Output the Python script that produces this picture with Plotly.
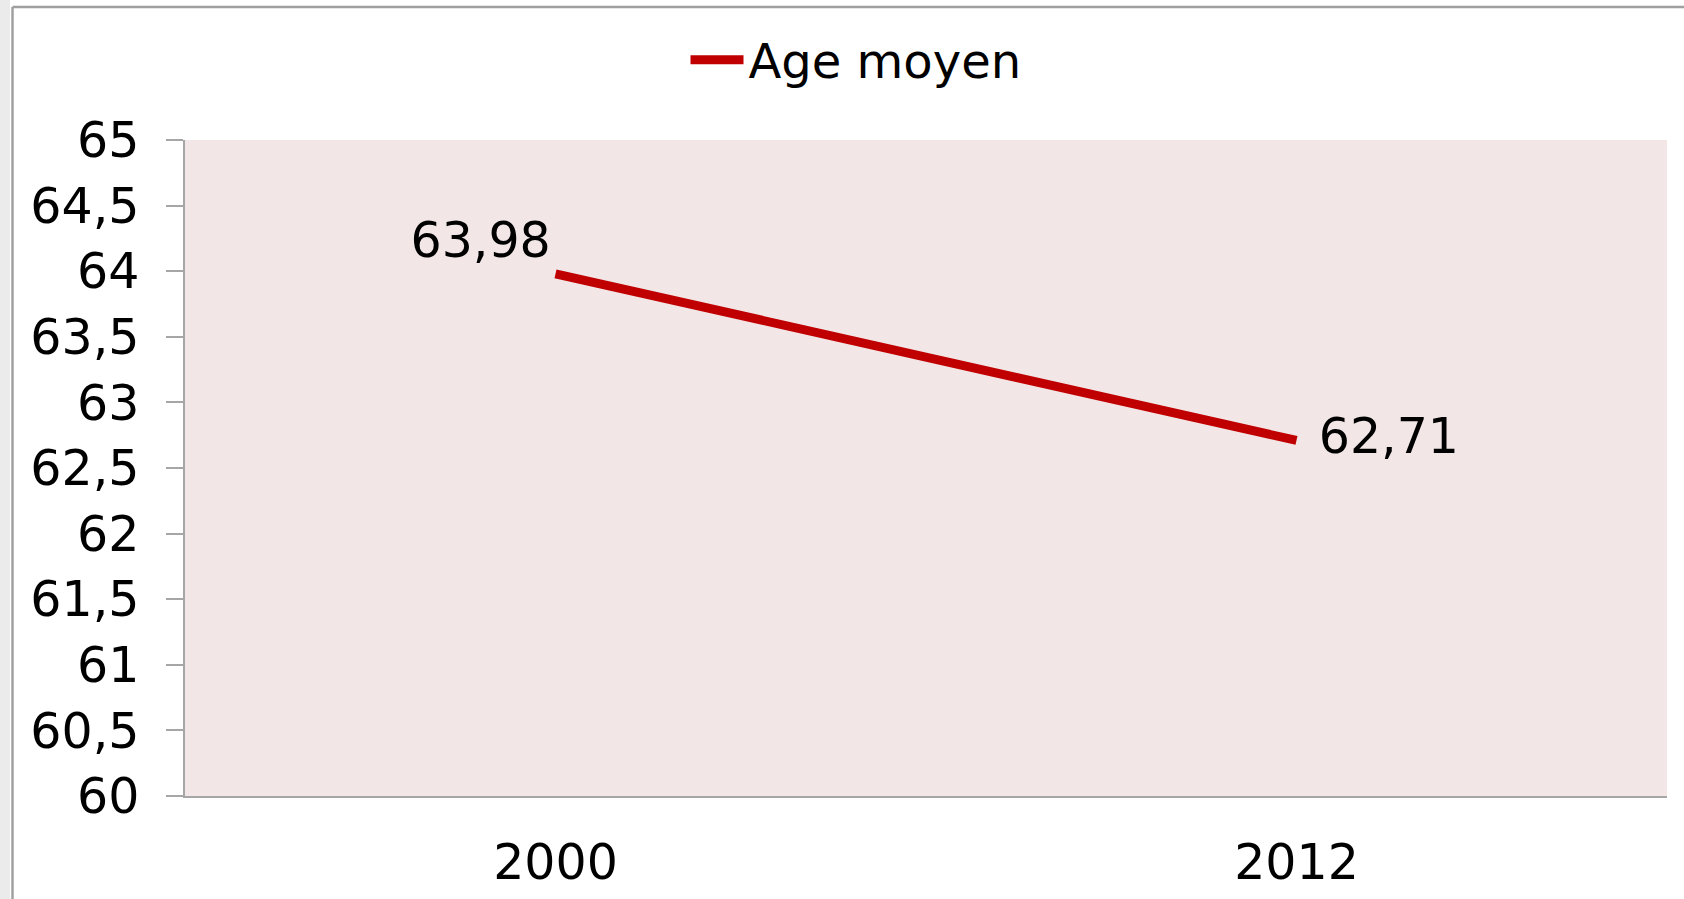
import plotly.graph_objects as go

years = ["2000", "2012"]
age_moyen = [63.98, 62.71]
series_name = "Age moyen"
y_ticks = [60, 60.5, 61, 61.5, 62, 62.5, 63, 63.5, 64, 64.5, 65]

W, H = 1684, 899
ML, MR, MT, MB = 185, 17, 140, 103
PW, PH = W - ML - MR, H - MT - MB


def px_x(px):
    return (px - ML) / PW


def px_y(py):
    return (H - MB - py) / PH


labels = [f"{v:.2f}".replace(".", ",") for v in age_moyen]

FONT = "DejaVu Sans, Verdana, sans-serif"
FS = 49

fig = go.Figure()
fig.add_trace(go.Scatter(
    x=years, y=age_moyen, name=series_name,
    mode="lines+markers+text",
    line=dict(color="#C00000", width=9),
    marker=dict(size=[6, 34], color="rgba(0,0,0,0)", line=dict(width=0)),
    text=labels,
    textposition=["top left", "middle right"],
    textfont=dict(size=FS, color="#000000", family=FONT),
    cliponaxis=False,
))

fig.update_layout(
    width=W, height=H,
    margin=dict(l=ML, r=MR, t=MT, b=MB, autoexpand=False),
    paper_bgcolor="white",
    plot_bgcolor="#F2E6E6",
    separators=", ",
    font=dict(family=FONT, size=FS, color="#000000"),
    showlegend=True,
    legend=dict(
        orientation="h", x=px_x(856), xanchor="center",
        y=px_y(60), yanchor="middle",
        font=dict(size=48, family=FONT, color="#000000"),
        itemwidth=53, bgcolor="rgba(0,0,0,0)",
    ),
    xaxis=dict(
        type="category", range=[-0.5, 1.5], automargin=False,
        showgrid=False, zeroline=False,
        showline=True, linecolor="#A6A6A6", linewidth=2,
        ticks="", tickfont=dict(size=FS, family=FONT),
        ticklabelstandoff=22,
    ),
    yaxis=dict(
        range=[60, 65], tickvals=y_ticks, automargin=False,
        showgrid=False, zeroline=False,
        showline=True, linecolor="#A6A6A6", linewidth=1.5,
        ticks="outside", ticklen=17, tickcolor="#A6A6A6", tickwidth=1.5,
        tickfont=dict(size=FS, family=FONT),
        ticklabelstandoff=17,
    ),
    shapes=[
        dict(type="rect", xref="paper", yref="paper",
             x0=px_x(0), x1=px_x(10), y0=px_y(H), y1=px_y(0),
             fillcolor="#EBEBEB", line=dict(width=0), layer="below"),
        dict(type="line", xref="paper", yref="paper",
             x0=px_x(12.5), x1=px_x(12.5), y0=px_y(H + 5), y1=px_y(7),
             line=dict(color="#A0A0A0", width=2.5)),
        dict(type="line", xref="paper", yref="paper",
             x0=px_x(12.5), x1=px_x(W + 5), y0=px_y(7), y1=px_y(7),
             line=dict(color="#A0A0A0", width=2.5)),
    ],
)

fig.write_html("out.html")
